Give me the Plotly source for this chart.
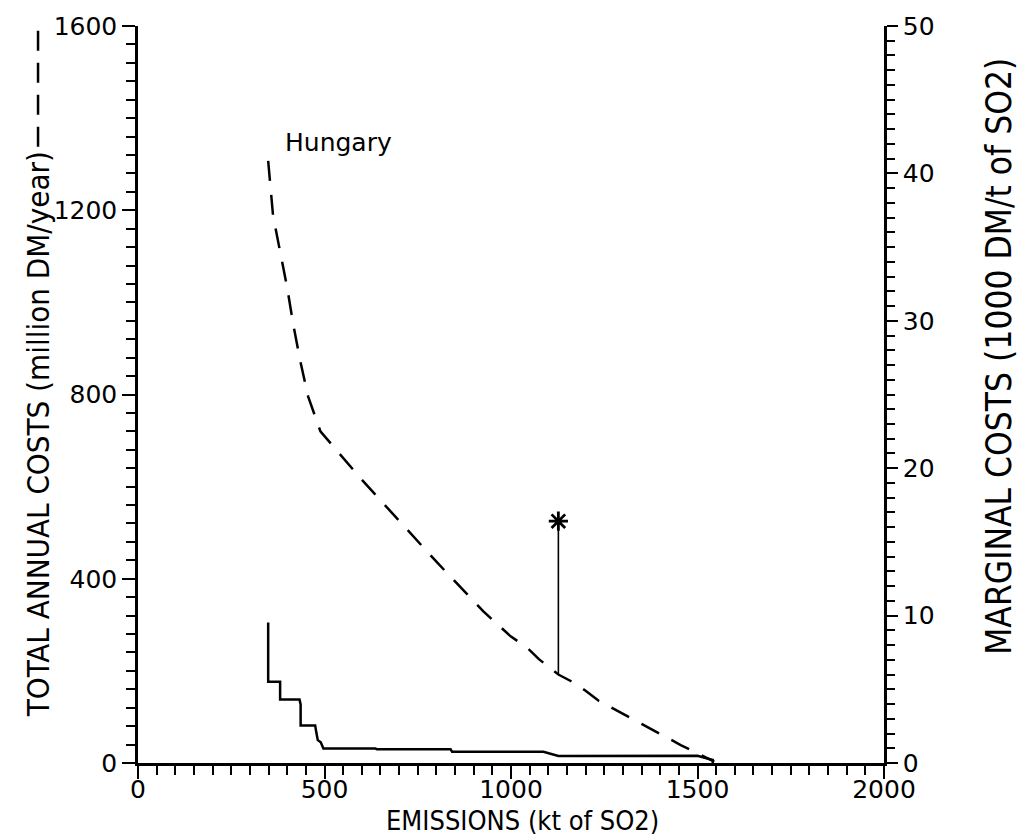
import plotly.graph_objects as go

# Total annual abatement costs (million DM/year) against remaining emissions (kt SO2)
emis_total = [349, 362, 381, 400, 416, 435, 456, 489, 600, 700, 800, 926, 964, 999, 1044, 1074, 1127, 1160, 1200, 1235, 1350, 1455, 1545]
cost_total = [1307, 1189, 1110, 1032, 953, 873, 796, 720, 615, 525, 437, 329, 301, 275, 250, 226, 192, 178, 157, 135, 85, 39, 3]

# Marginal costs (1000 DM/t SO2), stepwise
emis_marg = [349, 349, 381, 381, 433, 436, 436, 475, 478, 482, 490, 497, 636, 640, 838, 842, 1087, 1127, 1500, 1541, 1541]
cost_marg = [9.54, 5.51, 5.51, 4.30, 4.30, 3.97, 2.55, 2.55, 2.08, 1.55, 1.40, 0.99, 0.99, 0.94, 0.94, 0.76, 0.76, 0.47, 0.49, 0.20, 0.0]

# Reference point marked with an asterisk above the cost curve
star_emis = [1127, 1127]
star_cost = [192, 525]

x_ticks = [0, 500, 1000, 1500, 2000]
y_ticks = [0, 400, 800, 1200, 1600]
y2_ticks = [0, 10, 20, 30, 40, 50]

TICK_FONT = dict(family="DejaVu Sans", size=25, color="black")
TITLE_FAMILY = "Liberation Sans Narrow, DejaVu Sans Condensed, sans-serif"

fig = go.Figure()
fig.add_trace(go.Scatter(
    x=emis_total, y=cost_total, mode="lines", yaxis="y",
    line=dict(color="black", width=2.5, dash="20px,14px"), hoverinfo="skip"))
fig.add_trace(go.Scatter(
    x=emis_marg, y=cost_marg, mode="lines", yaxis="y2",
    line=dict(color="black", width=2.5), hoverinfo="skip"))
fig.add_trace(go.Scatter(
    x=star_emis, y=star_cost, mode="lines", yaxis="y",
    line=dict(color="black", width=1.6), hoverinfo="skip"))
fig.add_trace(go.Scatter(
    x=star_emis[-1:], y=star_cost[-1:], mode="markers", yaxis="y",
    marker=dict(symbol="asterisk-open", size=16, color="black",
                line=dict(color="black", width=2.8)), hoverinfo="skip"))

axis_common = dict(
    showgrid=False, zeroline=False, showline=True, linecolor="black", linewidth=2.5,
    ticks="outside", tickwidth=2, tickcolor="black", tickfont=TICK_FONT,
    mirror=False,
)

fig.update_layout(
    width=1020, height=840,
    margin=dict(l=138, r=136, t=19, b=77),
    paper_bgcolor="white", plot_bgcolor="white",
    showlegend=False,
    xaxis=dict(range=[0, 2000], tickvals=x_ticks, ticktext=[str(v) for v in x_ticks],
               ticklen=13, ticklabelstandoff=-11,
               minor=dict(dtick=50, ticklen=9, tickwidth=2, tickcolor="black", ticks="outside"),
               **axis_common),
    yaxis=dict(range=[0, 1600], tickvals=y_ticks, ticktext=[str(v) for v in y_ticks],
               ticklen=13,
               minor=dict(dtick=40, ticklen=9, tickwidth=2, tickcolor="black", ticks="outside"),
               **axis_common),
    yaxis2=dict(range=[0, 50], tickvals=y2_ticks, ticktext=[str(v) for v in y2_ticks],
                overlaying="y", side="right", anchor="x", ticklen=11,
                minor=dict(dtick=1, ticklen=8, tickwidth=2, tickcolor="black", ticks="outside"),
                **axis_common),
)

fig.add_annotation(text="EMISSIONS (kt of SO2)", xref="paper", yref="paper",
                   x=0.515, y=-0.078, xanchor="center", yanchor="middle",
                   showarrow=False, font=dict(family=TITLE_FAMILY, size=27, color="black"))
fig.add_annotation(text="TOTAL ANNUAL COSTS (million DM/year)", xref="paper", yref="paper",
                   x=-0.134, y=0.446, xanchor="center", yanchor="middle", textangle=-90,
                   showarrow=False, font=dict(family=TITLE_FAMILY, size=31, color="black"))
fig.add_annotation(text="MARGINAL COSTS (1000 DM/t of SO2)", xref="paper", yref="paper",
                   x=1.155, y=0.552, xanchor="center", yanchor="middle", textangle=-90,
                   showarrow=False, font=dict(family=TITLE_FAMILY, size=35, color="black"))
fig.add_annotation(text="Hungary", xref="x", yref="y", x=389, y=1347,
                   xanchor="left", yanchor="middle", showarrow=False,
                   font=dict(family="DejaVu Sans", size=25, color="black"))

# dashed key next to the left axis title
fig.add_shape(type="line", xref="paper", yref="paper",
              x0=-0.134, x1=-0.134, y0=0.836, y1=0.999,
              line=dict(color="black", width=2.5, dash="20px,12px"))

fig.write_html("out.html")
